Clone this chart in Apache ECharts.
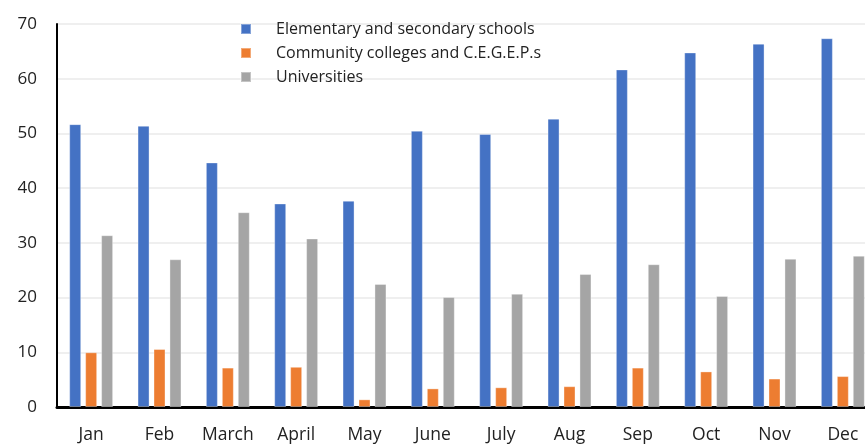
<!DOCTYPE html>
<html>
<head>
<meta charset="utf-8">
<script src="https://cdn.jsdelivr.net/npm/echarts@6/dist/echarts.min.js"></script>
<style>html,body{margin:0;padding:0;background:#fff;overflow:hidden}#c{width:877px;height:444px}</style>
</head>
<body>
<div id="c"></div>
<script>
const categories = ['Jan','Feb','March','April','May','June','July','Aug','Sep','Oct','Nov','Dec'];
const seriesNames = ['Elementary and secondary schools','Community colleges and C.E.G.E.P.s','Universities'];
const elementary = [51.7, 51.4, 44.7, 37.2, 37.7, 50.5, 49.9, 52.7, 61.7, 64.8, 66.4, 67.4];
const colleges   = [10.0, 10.6, 7.2, 7.35, 1.4, 3.4, 3.6, 3.8, 7.2, 6.5, 5.2, 5.65];
const universities = [31.4, 27.0, 35.6, 30.8, 22.5, 20.1, 20.7, 24.3, 26.1, 20.3, 27.1, 27.65];
const yTicks = [0,10,20,30,40,50,60,70];

const font = '"Open Sans", "Noto Sans", sans-serif';
const chart = echarts.init(document.getElementById('c'), null, {renderer:'canvas'});
const colors = ['#4472C4','#ED7D31','#A5A5A5'];
const mk = (name, data, i) => ({
  name, type:'bar', data, barWidth:12, barGap:'33%',
  itemStyle:{color:colors[i], borderColor:'rgba(255,255,255,0.35)', borderWidth:1},
  animation:false
});
chart.setOption({
  animation:false,
  color: colors,
  grid:{left:57, top:24, right:0, bottom:36, containLabel:false},
  legend:{
    orient:'vertical', left:235, top:16, itemWidth:10, itemHeight:10, itemGap:8,
    icon:'rect',
    data: seriesNames,
    textStyle:{fontFamily:font, fontSize:16, color:'#222', padding:[0,0,0,20]}
  },
  xAxis:{
    type:'category', data:categories,
    axisLine:{lineStyle:{color:'#000', width:3}},
    axisTick:{show:false},
    axisLabel:{fontFamily:font, fontSize:17.5, color:'#222', margin:19, interval:0, hideOverlap:false}
  },
  yAxis:{
    type:'value', min:yTicks[0], max:yTicks[yTicks.length-1], interval:10,
    axisLine:{show:true, lineStyle:{color:'#000', width:2}},
    axisTick:{show:false},
    splitLine:{lineStyle:{color:'#efefef', width:2}},
    axisLabel:{fontFamily:font, fontSize:17, color:'#222', margin:20}
  },
  series:[mk(seriesNames[0], elementary,0), mk(seriesNames[1], colleges,1), mk(seriesNames[2], universities,2)]
});
</script>
</body>
</html>
